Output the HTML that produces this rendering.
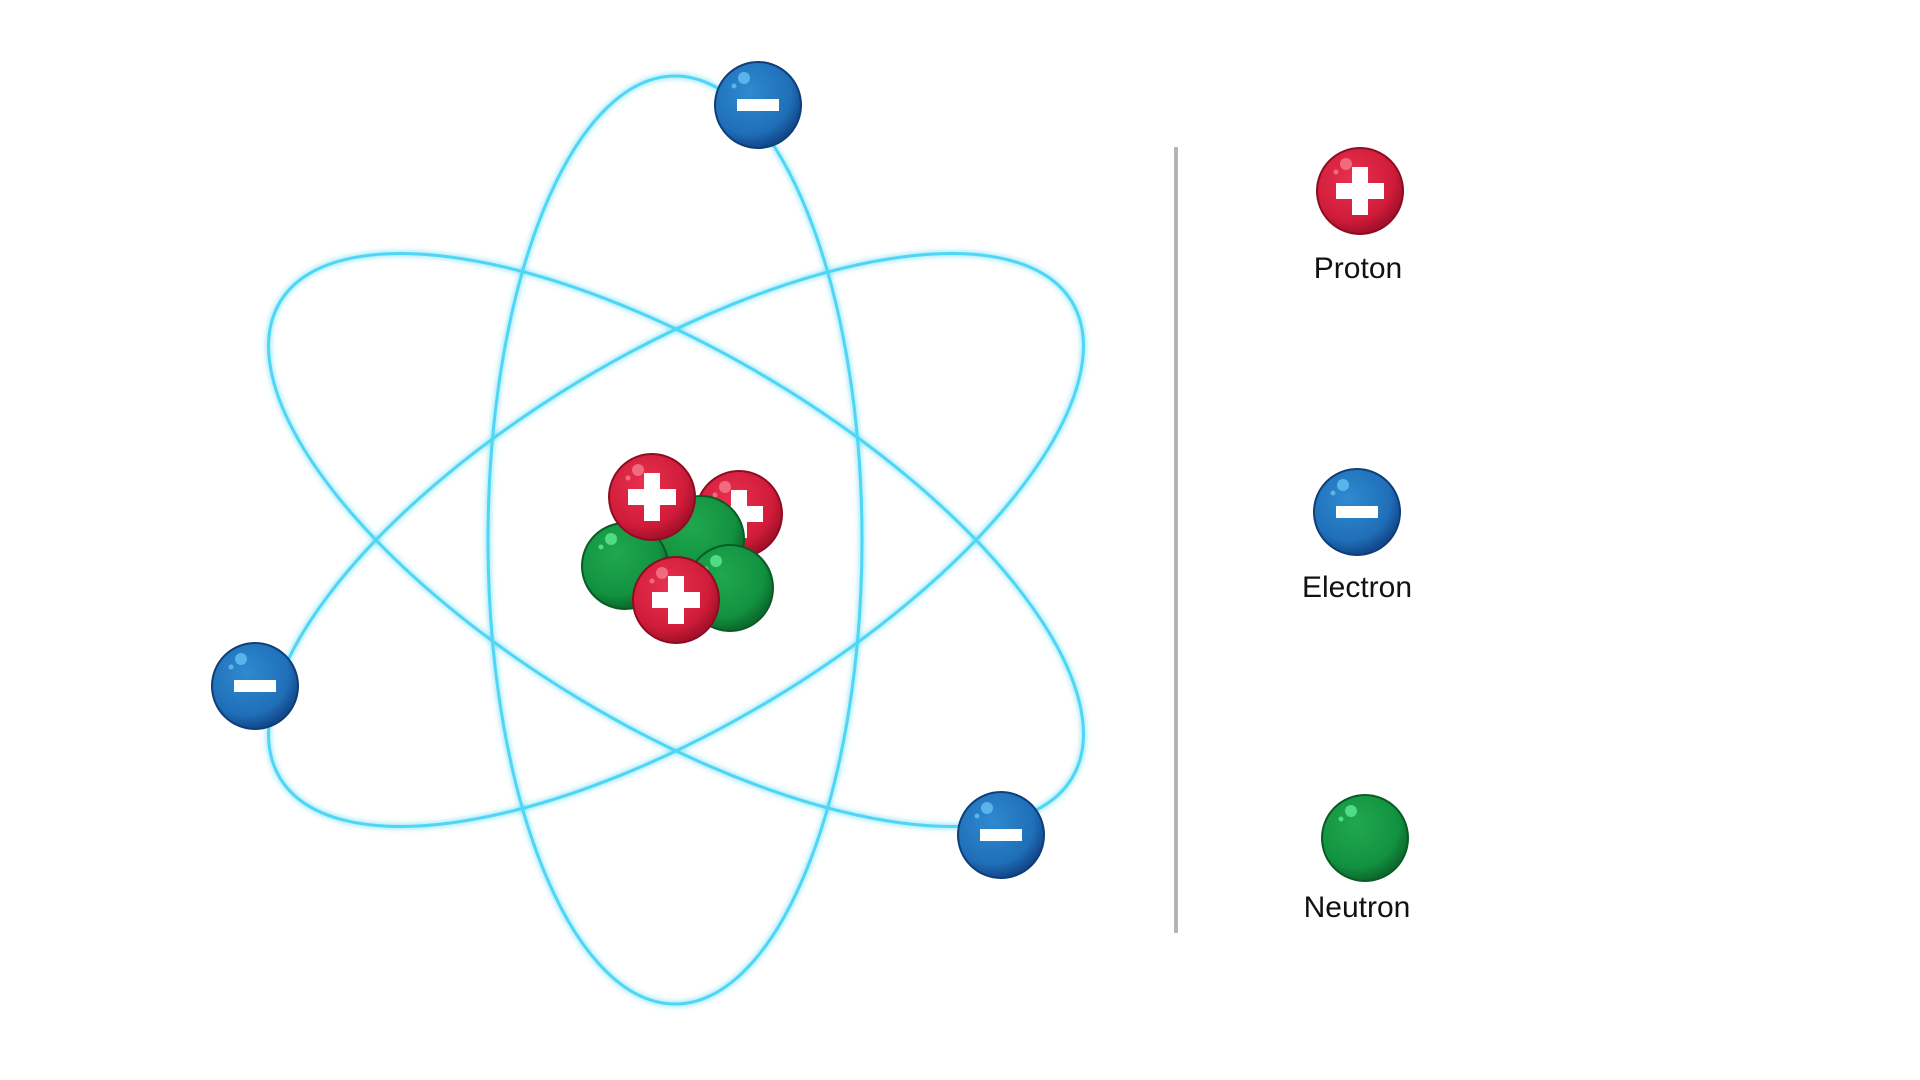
<!DOCTYPE html>
<html><head><meta charset="utf-8"><style>
html,body{margin:0;padding:0;background:#fff;width:1920px;height:1080px;overflow:hidden}
svg{display:block}
text{font-family:"Liberation Sans",sans-serif;font-size:30px;fill:#111;text-anchor:middle}
</style></head><body>
<svg width="1920" height="1080" viewBox="0 0 1920 1080">
<defs>
<filter id="glow" x="-20%" y="-20%" width="140%" height="140%"><feGaussianBlur stdDeviation="3" result="b"/><feMerge><feMergeNode in="b"/><feMergeNode in="SourceGraphic"/></feMerge></filter>
<radialGradient id="gr" cx="40%" cy="35%" r="65%"><stop offset="0" stop-color="#e8304f"/><stop offset="0.75" stop-color="#d01c3a"/><stop offset="1" stop-color="#a5102a"/></radialGradient>
<radialGradient id="gb" cx="40%" cy="35%" r="65%"><stop offset="0" stop-color="#2f8ad0"/><stop offset="0.75" stop-color="#1f6fb8"/><stop offset="1" stop-color="#12488c"/></radialGradient>
<radialGradient id="gg" cx="40%" cy="35%" r="65%"><stop offset="0" stop-color="#20a84e"/><stop offset="0.75" stop-color="#129240"/><stop offset="1" stop-color="#0b6a2c"/></radialGradient>
<g id="p"><circle r="43" fill="url(#gr)" stroke="#8e0c22" stroke-width="2"/><rect x="-24" y="-8" width="48" height="16" fill="#fff"/><rect x="-8" y="-24" width="16" height="48" fill="#fff"/><circle cx="-14" cy="-27" r="6" fill="#f06a80"/><circle cx="-24" cy="-19" r="2.5" fill="#f06a80"/></g>
<g id="e"><circle r="43" fill="url(#gb)" stroke="#0e3d78" stroke-width="2"/><rect x="-21" y="-6" width="42" height="12" fill="#fff"/><circle cx="-14" cy="-27" r="6" fill="#5ab4ec"/><circle cx="-24" cy="-19" r="2.5" fill="#5ab4ec"/></g>
<g id="n"><circle r="43" fill="url(#gg)" stroke="#0a5a24" stroke-width="2"/><circle cx="-14" cy="-27" r="6" fill="#4fdc84"/><circle cx="-24" cy="-19" r="2.5" fill="#4fdc84"/></g>
</defs>
<g fill="none" stroke="#4fd6f4" stroke-width="3" filter="url(#glow)">
<ellipse cx="675" cy="540" rx="187" ry="464"/>
<ellipse cx="676" cy="540" rx="462" ry="186" transform="rotate(31 676 540)"/>
<ellipse cx="676" cy="540" rx="462" ry="186" transform="rotate(-31 676 540)"/>
</g>
<use href="#p" x="739" y="514"/>
<use href="#n" x="701" y="539"/>
<use href="#n" x="625" y="566"/>
<use href="#p" x="652" y="497"/>
<use href="#n" x="730" y="588"/>
<use href="#p" x="676" y="600"/>
<use href="#e" x="758" y="105"/>
<use href="#e" x="255" y="686"/>
<use href="#e" x="1001" y="835"/>
<rect x="1174" y="147" width="4" height="786" fill="#b5b5b5"/>
<use href="#p" x="1360" y="191"/>
<text x="1358" y="278">Proton</text>
<use href="#e" x="1357" y="512"/>
<text x="1357" y="597">Electron</text>
<use href="#n" x="1365" y="838"/>
<text x="1357" y="917">Neutron</text>
</svg>
</body></html>
